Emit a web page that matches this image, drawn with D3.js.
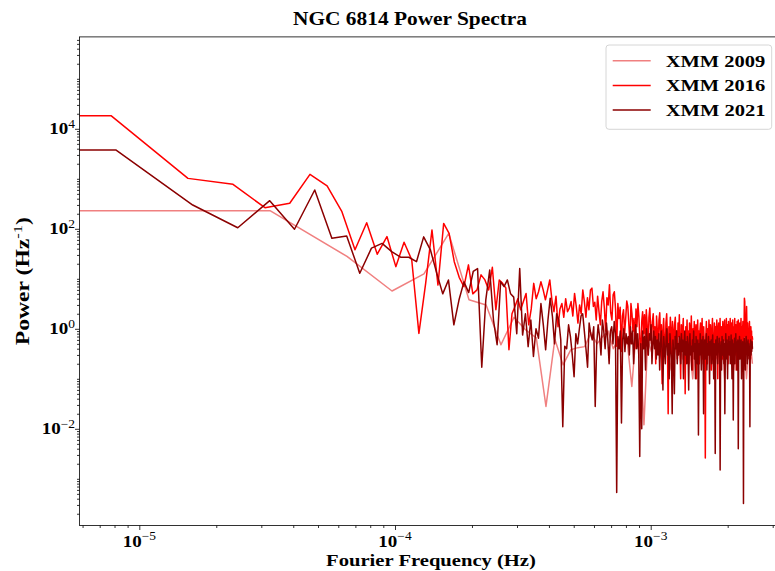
<!DOCTYPE html>
<html><head><meta charset="utf-8">
<script src="https://cdn.jsdelivr.net/npm/d3@7"></script>
<style>
body{margin:0;background:#fff}
svg{display:block}
text{font-family:"Liberation Serif","Times New Roman",serif;font-weight:bold;fill:#000}
</style>
</head><body><svg id="c" width="775" height="571"></svg>
<script>
// ---------------- data ----------------
const seriesNames = ["XMM 2009", "XMM 2016", "XMM 2021"];
const seriesColors = ["#f08080", "#ff0000", "#8b0000"];
const freqStep = [3.245e-5, 7.75e-6, 8.09e-6]; // Fourier frequency resolution of each observation (Hz)

const power2009 = [230, 28, 5.7, 12.5, 81, 3.8, 3, 0.48, 1.7, 0.95, 0.66, 0.028, 0.62, 0.19, 0.38, 0.42, 0.44, 0.83, 0.5, 0.7,
  0.9, 0.4, 0.6, 1.1, 0.5, 0.07, 0.8, 0.45, 0.012, 0.6, 0.35, 0.9, 0.5, 0.25, 0.7, 0.4, 0.15, 0.6, 0.3, 0.55,
  0.25, 0.45, 0.7, 0.3, 0.1, 0.5, 0.35, 0.6, 0.2, 0.4, 0.3, 0.55, 0.15, 0.35, 0.45, 0.25, 0.6, 0.2, 0.35, 0.1,
  0.4, 0.3, 0.5, 0.2, 0.35, 0.15, 0.45, 0.25, 0.3, 0.4, 0.2, 0.35, 0.1, 0.3, 0.25, 0.4, 0.2];

const power2016 = [18300, 1020, 776, 264, 324, 1230, 718, 220, 38, 132, 31, 70, 17.5, 54, 24, 0.81,
  8, 95, 7.5, 128, 81, 22, 10.7, 7, 19, 5, 6, 12, 9.5, 6, 17, 2.4,
  9.5, 8.1, 6.6, 0.38, 2, 2.8, 4, 2.4, 3.5, 5.1, 1.2, 2.5, 8.1, 4, 5.5, 8.7, 6, 3.8,
  6, 9.5, 3.8, 2.2, 4.5, 1.1, 2.5, 3.2, 1.7, 4, 2.2, 2.6, 3.5, 1.8, 5.1, 2.8, 1.3, 3, 2, 6,
  3.5, 1.7, 4.2, 2.4, 6, 6.5, 2.8, 3.4, 1.5, 4.5, 2.2, 1.2, 3.5, 5.5, 2.6, 0.9, 4.2, 3, 7.6, 2.1,
  1.5, 4.8, 5.5, 2.5, 0.45, 3.2, 1.6, 2.7, 0.35, 1.8, 2.4, 0.8, 1.6, 3.6, 2.8, 1.2, 0.5, 3.2, 2, 0.9,
  1.6, 0.4, 2.5, 1.1, 3.2, 1.8, 0.6, 0.25, 1.4, 2.2, 0.8, 1.9, 0.55, 2.4, 1.2, 0.3, 1.7, 2.6, 1.0, 0.5,
  1.4, 2, 0.7, 1.1, 0.2, 1.8, 0.9, 0.4, 1.5, 2.1, 0.6, 1.2, 0.08, 0.9, 1.6, 0.5, 0.3, 1.3, 2, 0.7,
  0.02, 1.1, 0.6, 1.7, 0.9, 0.15, 1.4, 0.8, 0.4, 1.2,
  1.7, 0.5, 0.9, 0.25, 1.3, 0.7, 1.9, 0.4, 0.1, 1.2, 0.6, 0.9, 1.6, 0.3, 0.8, 0.05, 1.1, 0.6, 1.5, 0.35,
  0.9, 0.2, 1.3, 0.7, 0.45, 1.8, 0.6, 0.15, 1.0, 0.5, 1.4, 0.3, 0.8, 1.2, 0.1, 0.6, 1.5, 0.4, 0.9, 0.2,
  0.9, 1.3, 0.4, 0.7, 1.6, 0.25, 0.8, 1.1, 0.5, 0.3, 0.0026, 0.7, 1.4, 0.6, 0.2, 1.0, 0.45, 1.5, 0.8, 0.3,
  1.2, 0.6, 0.15, 0.9, 1.6, 0.5, 0.7, 0.35, 1.3, 0.9, 0.2, 1.1, 0.5, 1.5, 0.7, 0.1, 0.9, 1.3, 0.4, 0.6,
  1.6, 0.3, 0.8, 1.1, 0.5, 0.25, 1.4, 0.7, 0.4, 1.0,
  1.5, 0.6, 0.9, 0.3, 1.6, 0.8, 0.45, 1.2, 0.2, 1.4, 0.7, 1.0, 0.35, 1.6, 0.5, 0.9, 1.3, 0.25, 0.8, 1.5,
  0.6, 0.4, 1.1, 0.7, 1.6, 0.3, 0.9, 1.2, 0.5, 0.15, 1.4, 0.8, 0.6, 1.5, 0.35, 1.0, 0.7, 1.3, 0.45, 0.9,
  1.6, 0.5, 0.3, 1.1, 0.8, 1.4, 0.6, 0.2, 1.0, 4.1,
  3.5, 0.7, 1.2, 0.5, 1.5, 2.8, 0.9, 0.4, 1.3, 0.7, 0.3, 1.0, 0.6, 1.4, 0.5, 0.8, 0.25, 1.1, 0.6, 0.9,
  0.4, 0.7, 0.6];

const power2021 = [3770, 299, 105, 365, 98, 597, 65, 72, 12.9, 41, 51, 35, 27, 27, 22,
  69, 38, 13, 5, 9.5, 1.2, 3.8, 8.7, 5.3, 14, 16, 0.17, 3.8, 15, 1.5, 0.48, 8.7, 7, 9.5, 5, 4.3, 0.8, 16, 0.75, 2,
  0.44, 1.5, 0.28, 1, 0.65, 3.2, 1.2, 0.38, 1.5, 4.1, 1.8, 0.5, 2, 1.5, 0.6, 0.011, 0.45, 0.4, 1.2, 0.7,
  0.3, 0.11, 0.8, 0.5, 0.98, 1.8, 2, 0.9, 0.4, 0.17,
  1.3, 0.8, 0.6, 1.1, 0.028, 0.5, 1.2, 0.7, 0.3, 1.5, 0.9, 0.4, 1.3, 0.6, 0.2, 0.9, 1.1, 0.5, 1.4, 0.8,
  0.00053, 0.7, 0.4, 0.9, 0.013, 0.6, 1.0, 0.35, 0.8, 0.5,
  0.7, 0.3, 1.1, 0.5, 0.9, 0.2, 0.6, 1.2, 0.4, 0.8, 0.3, 0.0028, 0.5, 0.01, 0.9, 0.4, 0.7, 0.15, 1.0, 0.5,
  0.3, 0.8, 0.6, 1.2, 0.2, 0.5, 0.9, 0.4, 0.7, 0.25,
  0.6, 0.3, 0.8, 0.15, 0.5, 0.9, 0.35, 0.06, 0.7, 0.4, 0.2, 0.6, 1.0, 0.3, 0.5, 0.1, 0.8, 0.45, 0.25, 0.02,
  0.6, 0.35, 0.05, 0.7, 0.4, 0.9, 0.2, 0.5, 0.3, 0.7,
  0.5, 0.2, 0.8, 0.35, 0.6, 0.1, 0.45, 0.9, 0.3, 0.55, 0.2, 0.7, 0.4, 0.06, 0.5, 0.8, 0.3, 0.45, 0.15, 0.6,
  0.35, 0.9, 0.25, 0.5, 0.1, 0.7, 0.4, 0.2, 0.6, 0.0075, 0.5, 0.3, 0.8, 0.45, 0.15, 0.6, 0.35, 0.7, 0.02, 0.4,
  0.6, 0.25, 0.45, 0.8, 0.15, 0.5, 0.3, 0.7, 0.4, 0.08, 0.55, 0.35, 0.6, 0.2, 0.45, 0.75, 0.3, 0.1, 0.5, 0.4,
  0.0032, 0.6, 0.3, 0.45, 0.7, 0.2, 0.5, 0.35, 0.65, 0.25, 0.0015, 0.4, 0.55, 0.15, 0.7, 0.3, 0.45, 0.6, 0.2, 0.5,
  0.02, 0.35, 0.8, 0.4, 0.25, 0.6, 0.1, 0.5, 0.35, 0.7,
  0.3, 0.55, 0.2, 0.45, 0.75, 0.35, 0.1, 0.6, 0.4, 0.015, 0.5, 0.3, 0.65, 0.2, 0.45, 0.8, 0.35, 0.55, 0.15, 0.4,
  0.6, 0.004, 0.45, 0.3, 0.7, 0.25, 0.5, 0.35, 0.6, 0.1, 0.45, 0.3, 0.55, 0.2, 0.00032, 0.4, 0.65, 0.3, 0.5, 0.15,
  0.45, 0.7, 0.35, 0.55, 0.2, 0.4, 0.6, 0.3, 0.5, 0.25, 0.45, 0.011, 0.4, 0.6, 0.3, 0.5, 0.35, 0.55, 0.4];

const seriesPowers = [power2009, power2016, power2021];

const xTickValues = [1e-5, 1e-4, 1e-3];
const xTickExponents = ["\u22125", "\u22124", "\u22123"];
const yTickValues = [1e-2, 1e0, 1e2, 1e4];
const yTickExponents = ["\u22122", "0", "2", "4"];
const titleText = "NGC 6814 Power Spectra";
const xLabelText = "Fourier Frequency (Hz)";
const yLabelMain = "Power (Hz";
const yLabelSup = "-1";

// ---------------- layout ----------------
const W = 775, H = 571;
const plot = {left: 79.5, right: 779, top: 36.9, bottom: 525.5};
const x = d3.scaleLog().domain([5.836e-6, 3.175e-3]).range([plot.left, plot.right]);
const y = d3.scaleLog().domain([Math.pow(10, -3.934), Math.pow(10, 5.838)]).range([plot.bottom, plot.top]);

const svg = d3.select("#c");
svg.append("defs").append("clipPath").attr("id", "clip")
  .append("rect").attr("x", plot.left).attr("y", plot.top)
  .attr("width", plot.right - plot.left).attr("height", plot.bottom - plot.top);

// horizontally stretch a text so that its width matches the (wider) serif face of the original
function stretch(sel, ax, ay, sx) {
  sel.attr("transform", `translate(${ax},${ay}) scale(${sx},1) translate(${-ax},${-ay})`);
}
function fitWidth(sel, ax, ay, target) {
  const w = sel.node().getBBox().width;
  stretch(sel, ax, ay, target / w);
}

function minorTicks(scale) {
  const [a, b] = scale.domain();
  const out = [];
  for (let e = Math.floor(Math.log10(a)); e <= Math.ceil(Math.log10(b)); e++) {
    for (let m = 1; m <= 9; m++) {
      const v = m * Math.pow(10, e);
      if (v >= a && v <= b) out.push(v);
    }
  }
  return out;
}
const xMinor = minorTicks(x).filter(v => !xTickValues.some(t => Math.abs(t - v) / t < 1e-9));
const yMinor = minorTicks(y).filter(v => !yTickValues.some(t => Math.abs(t - v) / t < 1e-9));

function styleAxis(g) {
  g.select(".domain").remove();
  g.selectAll(".tick line").attr("stroke", "#000").attr("stroke-width", 0.8);
  g.selectAll(".tick text").remove();
}

svg.append("g").attr("transform", `translate(0,${plot.bottom})`)
  .call(d3.axisBottom(x).tickValues(xMinor).tickSize(2.5).tickFormat(""))
  .call(styleAxis);
svg.append("g").attr("transform", `translate(0,${plot.bottom})`)
  .call(d3.axisBottom(x).tickValues(xTickValues).tickSize(4.5).tickFormat(""))
  .call(styleAxis);
svg.append("g").attr("transform", `translate(${plot.left},0)`)
  .call(d3.axisLeft(y).tickValues(yMinor).tickSize(2.5).tickFormat(""))
  .call(styleAxis);
svg.append("g").attr("transform", `translate(${plot.left},0)`)
  .call(d3.axisLeft(y).tickValues(yTickValues).tickSize(4.5).tickFormat(""))
  .call(styleAxis);

// tick labels with superscripts
const tickScale = 1.12;
xTickValues.forEach((v, i) => {
  const tx = x(v), ty = 547;
  const t = svg.append("text").attr("x", tx).attr("y", ty).attr("text-anchor", "middle")
    .style("font-size", "17px");
  t.append("tspan").text("10");
  t.append("tspan").attr("dy", -6.5).style("font-size", "12px").style("font-weight", "normal").text(xTickExponents[i]);
  stretch(t, tx, ty, tickScale);
});
yTickValues.forEach((v, i) => {
  const tx = 75, ty = y(v) + 5.6;
  const t = svg.append("text").attr("x", tx).attr("y", ty).attr("text-anchor", "end")
    .style("font-size", "17px");
  t.append("tspan").text("10");
  t.append("tspan").attr("dy", -6.5).style("font-size", "12px").style("font-weight", "normal").text(yTickExponents[i]);
  stretch(t, tx, ty, tickScale);
});

// lines
const line = d3.line().x(d => x(d.f)).y(d => y(d.p));
const gLines = svg.append("g").attr("clip-path", "url(#clip)");
seriesPowers.forEach((arr, s) => {
  // the zero-frequency bin is clipped to the far left of the log axis, as in the original plot
  const pts = [{f: x.domain()[0] / 2, p: arr[0]}].concat(arr.map((p, i) => ({f: (i + 1) * freqStep[s], p})));
  gLines.append("path").datum(pts).attr("d", line)
    .attr("fill", "none").attr("stroke", seriesColors[s]).attr("stroke-width", 1.5)
    .attr("stroke-linejoin", "round").attr("stroke-linecap", "butt");
});

// spines
svg.append("rect").attr("x", plot.left).attr("y", plot.top)
  .attr("width", plot.right - plot.left).attr("height", plot.bottom - plot.top)
  .attr("fill", "none").attr("stroke", "#000").attr("stroke-width", 0.8);

// title and labels
const tt = svg.append("text").attr("x", 410).attr("y", 25).attr("text-anchor", "middle")
  .style("font-size", "18px").text(titleText);
fitWidth(tt, 410, 25, 234);
const xl = svg.append("text").attr("x", 431).attr("y", 566.5).attr("text-anchor", "middle")
  .style("font-size", "17.5px").text(xLabelText);
fitWidth(xl, 431, 566.5, 210);
const yl = svg.append("text").attr("x", 0).attr("y", 0).attr("text-anchor", "middle").style("font-size", "18px");
yl.append("tspan").text(yLabelMain);
yl.append("tspan").attr("dy", -7).style("font-size", "12.5px").style("font-weight", "normal").text(yLabelSup);
yl.append("tspan").attr("dy", 7).text(")");
const ylw = yl.node().getBBox().width;
yl.attr("transform", `translate(29,${(plot.top + plot.bottom) / 2}) rotate(-90) scale(${128 / ylw},1)`);

// legend
const leg = svg.append("g");
leg.append("rect").attr("x", 606).attr("y", 45).attr("width", 165.7).attr("height", 84.3)
  .attr("rx", 3).attr("fill", "#fff").attr("fill-opacity", 0.8).attr("stroke", "#cccccc").attr("stroke-width", 0.8);
seriesNames.forEach((n, i) => {
  const cy = 60.7 + i * 24.7;
  leg.append("line").attr("x1", 612.7).attr("x2", 650.7).attr("y1", cy).attr("y2", cy)
    .attr("stroke", seriesColors[i]).attr("stroke-width", 1.5);
  const lt = leg.append("text").attr("x", 665.7).attr("y", cy + 6).style("font-size", "17.5px").text(n);
  fitWidth(lt, 665.7, cy + 6, 100);
});
</script></body></html>
